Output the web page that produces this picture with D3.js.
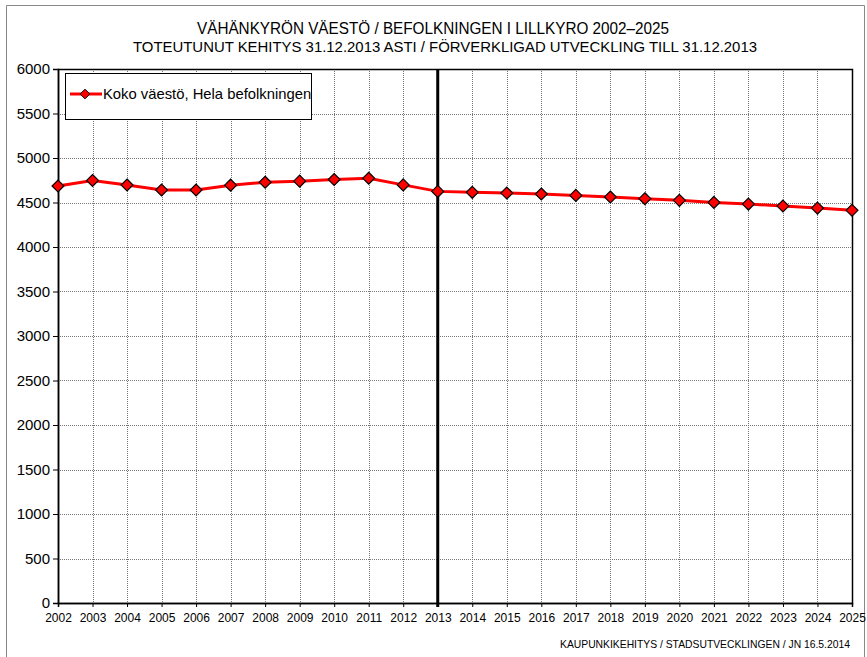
<!DOCTYPE html>
<html>
<head>
<meta charset="utf-8">
<script src="https://cdn.jsdelivr.net/npm/d3@7"></script>
<style>
  body { margin: 0; background: #fff; }
  svg { display: block; font-family: "Liberation Sans", Arial, sans-serif; }
</style>
</head>
<body>
<svg width="867" height="657"></svg>
<script>
// values
var years = [2002, 2003, 2004, 2005, 2006, 2007, 2008, 2009, 2010, 2011, 2012, 2013,
             2014, 2015, 2016, 2017, 2018, 2019, 2020, 2021, 2022, 2023, 2024, 2025];
var population = [4685, 4748, 4697, 4640, 4640, 4695, 4728, 4740, 4758, 4773, 4698, 4625,
                  4614, 4606, 4596, 4580, 4562, 4543, 4524, 4501, 4482, 4460, 4437, 4412];
var yTicks = [0, 500, 1000, 1500, 2000, 2500, 3000, 3500, 4000, 4500, 5000, 5500, 6000];
var markYear = 2013;
var seriesName = "Koko väestö, Hela befolkningen";

var svg = d3.select("svg"),
    margin = {top: 69, right: 15, bottom: 54, left: 58},
    width = +svg.attr("width") - margin.left - margin.right,
    height = +svg.attr("height") - margin.top - margin.bottom;

// outer frame
svg.append("path")
    .attr("d", "M6.5,657V5.5H864.5V657")
    .attr("fill", "none")
    .attr("stroke", "#888")
    .attr("stroke-width", 1);

svg.append("text")
    .attr("x", 433).attr("y", 34)
    .attr("text-anchor", "middle")
    .attr("font-size", 16)
    .attr("textLength", 472)
    .attr("lengthAdjust", "spacingAndGlyphs")
    .text("VÄHÄNKYRÖN VÄESTÖ / BEFOLKNINGEN I LILLKYRO 2002–2025");

svg.append("text")
    .attr("x", 445).attr("y", 52)
    .attr("text-anchor", "middle")
    .attr("font-size", 14)
    .attr("textLength", 624)
    .attr("lengthAdjust", "spacingAndGlyphs")
    .text("TOTEUTUNUT  KEHITYS 31.12.2013 ASTI / FÖRVERKLIGAD UTVECKLING  TILL 31.12.2013");

var g = svg.append("g").attr("transform", "translate(" + margin.left + "," + margin.top + ")");

var x = d3.scalePoint().domain(years).range([0, width]);
var y = d3.scaleLinear().domain([0, 6000]).range([height, 0]);

// grid
g.append("g").selectAll("line")
    .data(yTicks.slice(1))
    .enter().append("line")
    .attr("x1", 0).attr("x2", width)
    .attr("y1", function(d) { return Math.round(y(d)) + 0.5; })
    .attr("y2", function(d) { return Math.round(y(d)) + 0.5; })
    .attr("stroke", "#777").attr("stroke-dasharray", "1,1");

g.append("g").selectAll("line")
    .data(years.slice(1))
    .enter().append("line")
    .attr("x1", function(d) { return Math.round(x(d)) + 0.5; })
    .attr("x2", function(d) { return Math.round(x(d)) + 0.5; })
    .attr("y1", 0).attr("y2", height)
    .attr("stroke", "#777").attr("stroke-dasharray", "1,1");

// frame of plot area
g.append("rect")
    .attr("x", 0.5).attr("y", 0.5)
    .attr("width", width).attr("height", height)
    .attr("fill", "none").attr("stroke", "#000").attr("stroke-width", 1.5);

// 2013 marker line
g.append("line")
    .attr("x1", x(markYear)).attr("x2", x(markYear))
    .attr("y1", 0).attr("y2", height + 4)
    .attr("stroke", "#000").attr("stroke-width", 3);

// axes
var yAxis = g.append("g")
    .call(d3.axisLeft(y).tickValues(yTicks).tickSize(5).tickPadding(3).tickFormat(d3.format("d")));
yAxis.select(".domain").attr("stroke", "#000").attr("stroke-width", 1.5);
yAxis.selectAll("text").attr("font-size", 15).attr("font-family", "Liberation Sans, Arial, sans-serif").attr("fill", "#000");

var xAxis = g.append("g")
    .attr("transform", "translate(0," + height + ")")
    .call(d3.axisBottom(x).tickSize(4).tickPadding(6).tickFormat(d3.format("d")));
xAxis.select(".domain").attr("stroke", "#000").attr("stroke-width", 1.5);
xAxis.selectAll("text").attr("font-size", 12).attr("font-family", "Liberation Sans, Arial, sans-serif").attr("fill", "#000");

// series
var line = d3.line()
    .x(function(d, i) { return x(years[i]); })
    .y(function(d) { return y(d); });

g.append("path")
    .datum(population)
    .attr("d", line)
    .attr("fill", "none")
    .attr("stroke", "#ff0000")
    .attr("stroke-width", 3);

var diamond = d3.symbol().type(d3.symbolDiamond2).size(90);

g.selectAll(".pt")
    .data(population)
    .enter().append("path")
    .attr("class", "pt")
    .attr("transform", function(d, i) { return "translate(" + x(years[i]) + "," + y(d) + ")"; })
    .attr("d", diamond)
    .attr("fill", "#ff0000")
    .attr("stroke", "#000")
    .attr("stroke-width", 1.2);

// legend
var legend = svg.append("g").attr("transform", "translate(65,73)");
legend.append("rect")
    .attr("x", 0.5).attr("y", 0.5)
    .attr("width", 246).attr("height", 46)
    .attr("fill", "#fff").attr("stroke", "#000");
legend.append("line")
    .attr("x1", 5).attr("x2", 37).attr("y1", 21).attr("y2", 21)
    .attr("stroke", "#ff0000").attr("stroke-width", 3);
legend.append("path")
    .attr("transform", "translate(20,21)")
    .attr("d", d3.symbol().type(d3.symbolDiamond2).size(60))
    .attr("fill", "#ff0000").attr("stroke", "#000").attr("stroke-width", 1);
legend.append("text")
    .attr("x", 38).attr("y", 26)
    .attr("font-size", 14.8)
    .text(seriesName);

// footer
svg.append("text")
    .attr("x", 850).attr("y", 648)
    .attr("text-anchor", "end")
    .attr("font-size", 11)
    .attr("textLength", 290)
    .attr("lengthAdjust", "spacingAndGlyphs")
    .text("KAUPUNKIKEHITYS  / STADSUTVECKLINGEN / JN 16.5.2014");
</script>
</body>
</html>
